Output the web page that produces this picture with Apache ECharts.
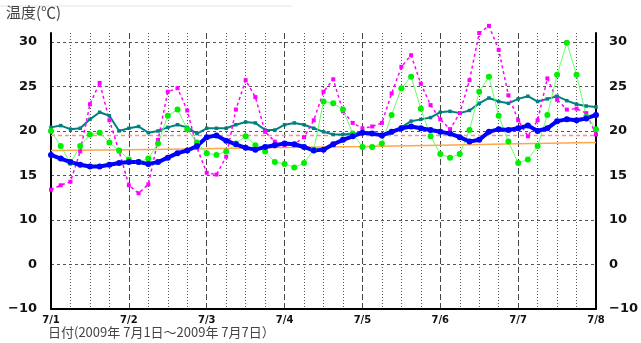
<!DOCTYPE html>
<html>
<head>
<meta charset="utf-8">
<script src="https://cdn.jsdelivr.net/npm/echarts@6/dist/echarts.min.js"></script>
<style>
  html, body { margin: 0; padding: 0; background: #fff; }
  #chart { width: 641px; height: 343px; }
</style>
</head>
<body>
<div id="chart"></div>
<script>
// hours from 7/1 00:00, every 3 hours
const hours = [];
for (let h = 0; h <= 168; h += 3) hours.push(h);
const dayLabels = ["7/1", "7/2", "7/3", "7/4", "7/5", "7/6", "7/7", "7/8"];

const magenta = [13.4, 13.9, 14.3, 17.7, 23.0, 25.4, 21.2, 17.7, 13.9, 13.0, 14.0, 19.0, 24.4, 24.8, 22.3, 18.1,
  15.3, 15.1, 17.1, 22.4, 25.7, 23.8, 19.9, 18.8, 18.4, 18.5, 19.3, 21.2, 24.4, 25.8, 22.2, 20.9,
  20.3, 20.5, 20.9, 24.2, 27.2, 28.5, 25.3, 22.9, 21.3, 20.2, 22.0, 25.7, 31.0, 31.8, 29.1, 24.0,
  21.2, 19.4, 21.2, 25.9, 23.5, 22.4, 22.5, 22.0, 19.6];
const green = [20.0, 18.3, 16.4, 18.3, 19.6, 19.8, 18.7, 17.8, 16.8, 16.5, 16.9, 18.6, 21.7, 22.4, 20.2, 18.7,
  17.5, 17.3, 17.7, 18.6, 19.4, 18.4, 17.7, 16.5, 16.3, 15.9, 16.4, 17.9, 23.3, 23.1, 22.4, 19.7,
  18.2, 18.2, 18.6, 21.8, 24.8, 26.1, 22.5, 19.4, 17.4, 17.0, 17.4, 20.1, 24.4, 26.1, 21.7, 18.8,
  16.4, 16.8, 18.3, 21.8, 26.3, 29.9, 26.3, 21.6, 20.2];
const teal = [20.4, 20.6, 20.2, 20.3, 21.3, 22.1, 21.7, 20.0, 20.3, 20.5, 19.8, 20.0, 20.4, 20.7, 20.4, 19.7,
  20.3, 20.3, 20.3, 20.7, 21.0, 20.9, 20.1, 20.1, 20.7, 20.9, 20.7, 20.3, 19.9, 19.6, 19.6, 19.7,
  19.7, 19.7, 19.5, 19.8, 20.4, 21.1, 21.3, 21.5, 22.1, 22.2, 22.0, 22.3, 23.1, 23.7, 23.3, 23.1,
  23.6, 23.9, 23.3, 23.6, 23.9, 23.4, 23.0, 22.8, 22.7];
const blue = [17.3, 16.9, 16.5, 16.2, 16.0, 16.0, 16.2, 16.4, 16.5, 16.5, 16.3, 16.5, 17.0, 17.5, 17.8, 18.3,
  19.3, 19.5, 18.9, 18.5, 18.1, 17.9, 18.2, 18.4, 18.6, 18.5, 18.2, 17.8, 17.9, 18.5, 19.0, 19.4,
  19.8, 19.7, 19.5, 19.9, 20.3, 20.5, 20.3, 20.1, 19.9, 19.7, 19.3, 18.8, 19.0, 19.9, 20.2, 20.1,
  20.3, 20.6, 20.0, 20.3, 21.1, 21.3, 21.2, 21.4, 21.8];
const normalHours = [0, 24, 48, 72, 96, 120, 144, 168];
const normal = [17.8, 17.9, 18.0, 18.15, 18.25, 18.4, 18.55, 18.7];
const limitHours = [0, 168];
const limit = [19.5, 19.5];

// y scale: -10..10 is drawn at half scale
const tf = v => (v >= 10 ? v : 10 + (v - 10) / 2);
const untf = t => (t >= 10 ? t : (t - 10) * 2 + 10);
const pts = (xs, ys) => xs.map((h, i) => [h, tf(ys[i])]);

const yLabel = v => {
  const n = Math.round(untf(v));
  return n < 0 ? "\u2212" + Math.abs(n) : String(n);
};

const chart = echarts.init(document.getElementById("chart"));
const labelFont = { fontFamily: "DejaVu Sans", fontSize: 13, fontWeight: "bold", color: "#111" };

chart.setOption({
  animation: false,
  grid: { left: 51, right: 28, top: 33, bottom: 34 },
  graphic: [
    { type: "line", shape: { x1: 0, y1: 6, x2: 292, y2: 6 }, style: { stroke: "#dfe5ec", lineWidth: 1 } },
    { type: "text", left: 6, top: 5, style: { text: "温度(℃)", font: "15px 'Noto Sans CJK JP'", fill: "#444" } },
    { type: "text", left: 48, top: 326, style: { text: "日付(2009年 7月1日～2009年 7月7日）", font: "13px 'Noto Sans CJK JP'", fill: "#444" } }
  ],
  xAxis: {
    type: "value", min: 0, max: 168, interval: 24,
    axisLine: { lineStyle: { color: "#000", width: 2 } },
    axisTick: { show: false },
    axisLabel: { formatter: v => dayLabels[Math.round(v / 24)], fontFamily: "DejaVu Sans", fontSize: 10, fontWeight: "bold", color: "#111", margin: 6 },
    splitLine: { show: true, lineStyle: { color: "#444", width: 1, type: [6, 3] } },
    minorTick: { show: false, splitNumber: 4 },
    minorSplitLine: { show: true, lineStyle: { color: "#555", width: 1, type: [1, 2] } }
  },
  yAxis: [
    {
      type: "value", min: 0, max: 31, interval: 5, position: "left",
      axisLine: { show: true, lineStyle: { color: "#000", width: 2 } },
      axisTick: { show: false },
      axisLabel: Object.assign({ formatter: yLabel, margin: 14, showMaxLabel: false }, labelFont),
      splitLine: { show: true, showMinLine: false, showMaxLine: false, lineStyle: { color: "#555", type: [3, 3] } }
    },
    {
      type: "value", min: 0, max: 31, interval: 5, position: "right",
      axisLine: { show: true, lineStyle: { color: "#000", width: 2 } },
      axisTick: { show: false },
      axisLabel: Object.assign({ formatter: yLabel, margin: 13, showMaxLabel: false }, labelFont),
      splitLine: { show: false }
    }
  ],
  series: [
    { type: "line", data: pts(normalHours, normal), symbol: "none", lineStyle: { color: "#ffa64d", width: 1.5 } },
    { type: "line", data: pts(limitHours, limit), symbol: "none", lineStyle: { color: "#ff8c8c", width: 1.5, type: [4, 3] } },
    { type: "line", data: pts(hours, teal), symbol: "rect", symbolSize: 3.5,
      itemStyle: { color: "#008080" }, lineStyle: { color: "#008080", width: 2 } },
    { type: "line", data: pts(hours, magenta), symbol: "rect", symbolSize: 4, clip: false,
      itemStyle: { color: "#ff00ff" }, lineStyle: { color: "#ff00ff", width: 1.5, type: [3, 3] } },
    { type: "line", data: pts(hours, green), symbol: "circle", symbolSize: 6,
      itemStyle: { color: "#00ee00" }, lineStyle: { color: "#66ff66", width: 1 } },
    { type: "line", data: pts(hours, blue), symbol: "circle", symbolSize: 6,
      itemStyle: { color: "#0000ff" }, lineStyle: { color: "#0000ff", width: 4 } }
  ]
});
</script>
</body>
</html>
